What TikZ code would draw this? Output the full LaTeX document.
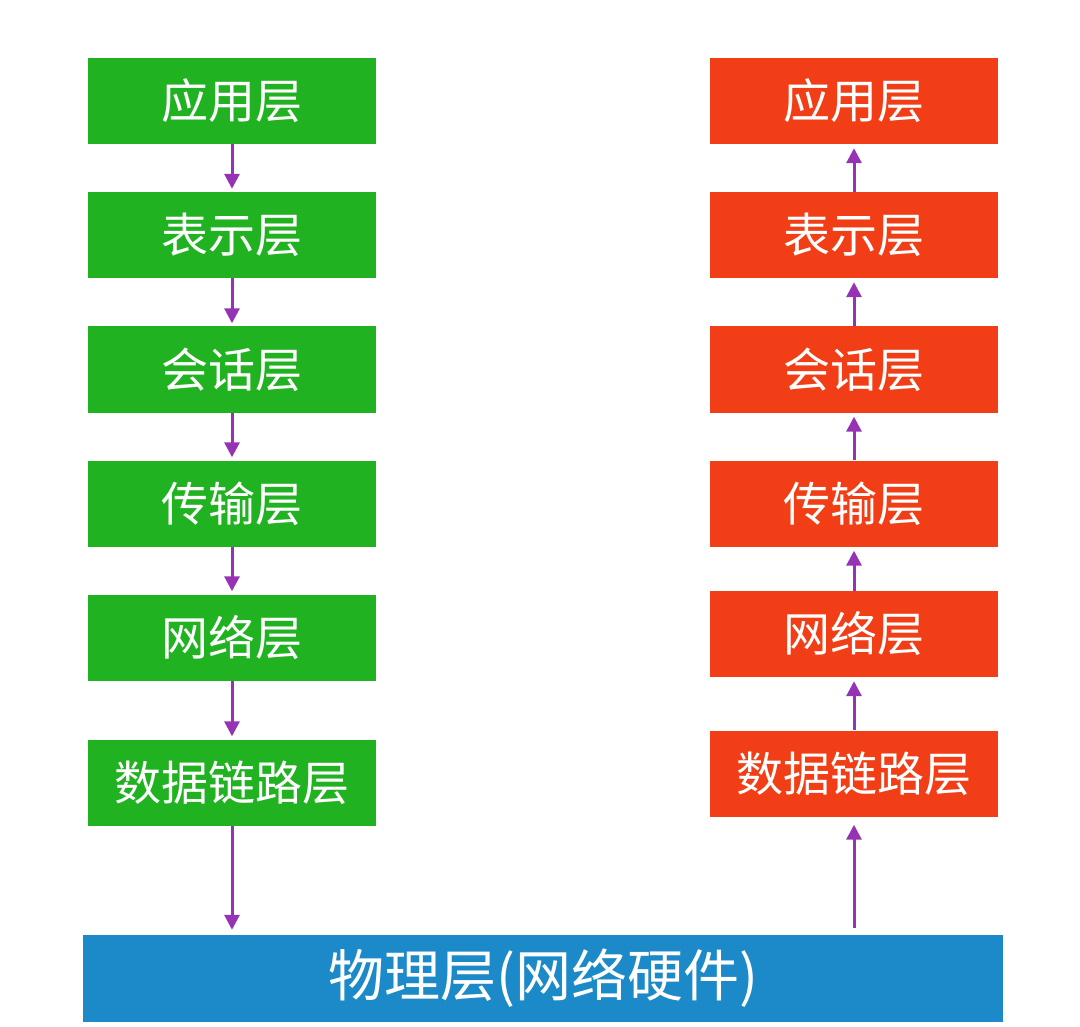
\documentclass[tikz,border=0pt]{standalone}
\usepackage{fontspec}
\newfontfamily\cjk{Noto Sans CJK SC}
\usetikzlibrary{arrows.meta}
\definecolor{gr}{RGB}{32,178,32}
\definecolor{rd}{RGB}{242,62,22}
\definecolor{bl}{RGB}{28,138,200}
\definecolor{pu}{RGB}{150,50,180}
\tikzset{x=1pt,y=-1pt,
 layer/.style={minimum width=288pt,minimum height=86pt,inner sep=0pt,text=white,font=\cjk\fontsize{47}{50}\selectfont},
 arr/.style={pu,line width=3pt,-{Triangle[length=15pt,width=15pt]}}}
\begin{document}
\begin{tikzpicture}
\useasboundingbox (0,0) rectangle (1080,1027);
\foreach \n/\t/\y in {l1/应用层/101,l2/表示层/235,l3/会话层/369.5,l4/传输层/503.5,l5/网络层/637.5,l6/数据链路层/782.5}
  \node[layer,fill=gr] (\n) at (232,\y) {\t};
\foreach \n/\t/\y in {r1/应用层/101,r2/表示层/235,r3/会话层/369.5,r4/传输层/503.5,r5/网络层/634,r6/数据链路层/773.5}
  \node[layer,fill=rd] (\n) at (854,\y) {\t};
\node[layer,fill=bl,minimum width=920pt,minimum height=87pt,font=\cjk\fontsize{56}{60}\selectfont] (p) at (543,978.5) {物理层(网络硬件)};
\foreach \a/\b in {l1/l2,l2/l3,l3/l4,l4/l5,l5/l6}
  \draw[arr,shorten >=3pt] (\a) -- (\b);
\draw[arr,shorten >=5pt] (l6.south) -- (l6.south |- p.north);
\foreach \a/\b in {r2/r1,r3/r2,r4/r3,r5/r4,r6/r5}
  \draw[arr,shorten >=4pt] (\a) -- (\b);
\draw[arr,shorten >=8pt] (r6.south |- p.north) ++(0,-7) -- (r6.south);
\end{tikzpicture}
\end{document}
